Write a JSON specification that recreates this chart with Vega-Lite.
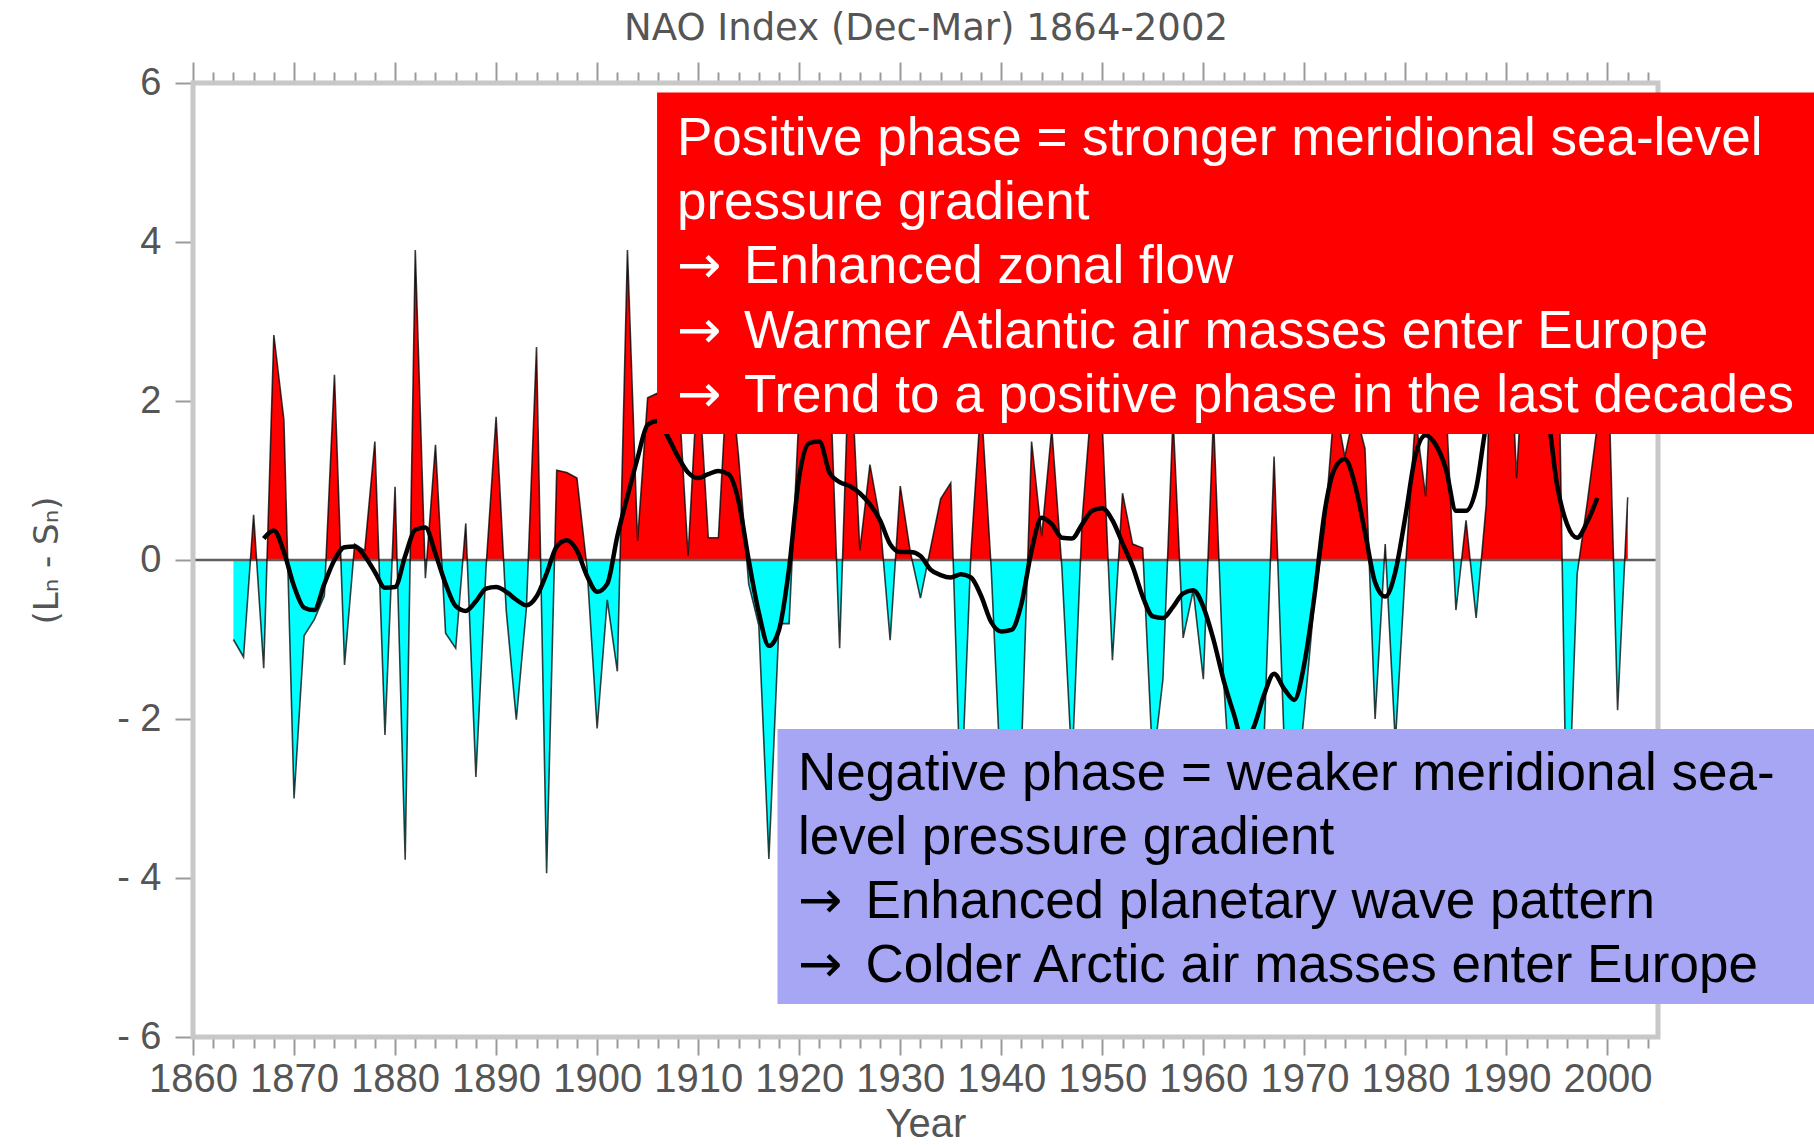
{
  "$schema": "https://vega.github.io/schema/vega-lite/v6.json",
  "description": "Winter (Dec-Mar) North Atlantic Oscillation index 1864-2002 with a low-pass smoothed curve and two explanatory call-outs.",
  "width": 1465,
  "height": 477,
  "autosize": {"type": "none"},
  "padding": {"left": 193, "top": 83, "right": 156, "bottom": 585},
  "background": "white",
  "config": {
    "view": {"stroke": null},
    "axis": {
      "domain": false,
      "grid": false,
      "tickColor": "#9a9a9a",
      "tickWidth": 2,
      "labelColor": "#555555",
      "labelFont": "Liberation Sans",
      "labelFontSize": 37,
      "titleColor": "#555555",
      "titleFont": "Liberation Sans",
      "titleFontWeight": "normal"
    }
  },
  "datasets": {
    "nao": [
      {"year": 1864, "nao": -1.00}, {"year": 1865, "nao": -1.22}, {"year": 1866, "nao": 0.57}, {"year": 1867, "nao": -1.36},
      {"year": 1868, "nao": 2.83}, {"year": 1869, "nao": 1.76}, {"year": 1870, "nao": -3.00}, {"year": 1871, "nao": -0.95},
      {"year": 1872, "nao": -0.75}, {"year": 1873, "nao": -0.45}, {"year": 1874, "nao": 2.33}, {"year": 1875, "nao": -1.32},
      {"year": 1876, "nao": 0.20}, {"year": 1877, "nao": 0.12}, {"year": 1878, "nao": 1.49}, {"year": 1879, "nao": -2.20},
      {"year": 1880, "nao": 0.92}, {"year": 1881, "nao": -3.77}, {"year": 1882, "nao": 3.90}, {"year": 1883, "nao": -0.23},
      {"year": 1884, "nao": 1.45}, {"year": 1885, "nao": -0.92}, {"year": 1886, "nao": -1.11}, {"year": 1887, "nao": 0.46},
      {"year": 1888, "nao": -2.73}, {"year": 1889, "nao": -0.10}, {"year": 1890, "nao": 1.80}, {"year": 1891, "nao": -0.63},
      {"year": 1892, "nao": -2.01}, {"year": 1893, "nao": -0.60}, {"year": 1894, "nao": 2.68}, {"year": 1895, "nao": -3.94},
      {"year": 1896, "nao": 1.13}, {"year": 1897, "nao": 1.10}, {"year": 1898, "nao": 1.03}, {"year": 1899, "nao": -0.10},
      {"year": 1900, "nao": -2.12}, {"year": 1901, "nao": -0.50}, {"year": 1902, "nao": -1.40}, {"year": 1903, "nao": 3.90},
      {"year": 1904, "nao": 0.24}, {"year": 1905, "nao": 2.04}, {"year": 1906, "nao": 2.10}, {"year": 1907, "nao": 1.90},
      {"year": 1908, "nao": 2.25}, {"year": 1909, "nao": 0.05}, {"year": 1910, "nao": 2.40}, {"year": 1911, "nao": 0.28},
      {"year": 1912, "nao": 0.28}, {"year": 1913, "nao": 2.60}, {"year": 1914, "nao": 1.30}, {"year": 1915, "nao": -0.30},
      {"year": 1916, "nao": -0.82}, {"year": 1917, "nao": -3.76}, {"year": 1918, "nao": -0.80}, {"year": 1919, "nao": -0.80},
      {"year": 1920, "nao": 1.90}, {"year": 1921, "nao": 2.30}, {"year": 1922, "nao": 1.80}, {"year": 1923, "nao": 2.50},
      {"year": 1924, "nao": -1.11}, {"year": 1925, "nao": 2.80}, {"year": 1926, "nao": 0.12}, {"year": 1927, "nao": 1.20},
      {"year": 1928, "nao": 0.50}, {"year": 1929, "nao": -1.01}, {"year": 1930, "nao": 0.93}, {"year": 1931, "nao": 0.10},
      {"year": 1932, "nao": -0.48}, {"year": 1933, "nao": 0.15}, {"year": 1934, "nao": 0.77}, {"year": 1935, "nao": 0.97},
      {"year": 1936, "nao": -3.10}, {"year": 1937, "nao": 0.10}, {"year": 1938, "nao": 2.00}, {"year": 1939, "nao": -0.10},
      {"year": 1940, "nao": -2.90}, {"year": 1941, "nao": -3.30}, {"year": 1942, "nao": -2.40}, {"year": 1943, "nao": 1.49},
      {"year": 1944, "nao": 0.30}, {"year": 1945, "nao": 1.65}, {"year": 1946, "nao": -0.10}, {"year": 1947, "nao": -2.60},
      {"year": 1948, "nao": 0.50}, {"year": 1949, "nao": 2.10}, {"year": 1950, "nao": 1.70}, {"year": 1951, "nao": -1.26},
      {"year": 1952, "nao": 0.84}, {"year": 1953, "nao": 0.20}, {"year": 1954, "nao": 0.15}, {"year": 1955, "nao": -2.60},
      {"year": 1956, "nao": -1.50}, {"year": 1957, "nao": 1.80}, {"year": 1958, "nao": -0.98}, {"year": 1959, "nao": -0.38},
      {"year": 1960, "nao": -1.50}, {"year": 1961, "nao": 1.80}, {"year": 1962, "nao": -1.50}, {"year": 1963, "nao": -3.50},
      {"year": 1964, "nao": -2.80}, {"year": 1965, "nao": -2.50}, {"year": 1966, "nao": -2.30}, {"year": 1967, "nao": 1.30},
      {"year": 1968, "nao": -2.30}, {"year": 1969, "nao": -3.20}, {"year": 1970, "nao": -1.90}, {"year": 1971, "nao": -0.50},
      {"year": 1972, "nao": 0.40}, {"year": 1973, "nao": 2.00}, {"year": 1974, "nao": 1.30}, {"year": 1975, "nao": 1.90},
      {"year": 1976, "nao": 1.40}, {"year": 1977, "nao": -2.00}, {"year": 1978, "nao": 0.20}, {"year": 1979, "nao": -2.30},
      {"year": 1980, "nao": -0.10}, {"year": 1981, "nao": 1.80}, {"year": 1982, "nao": 0.80}, {"year": 1983, "nao": 3.40},
      {"year": 1984, "nao": 2.00}, {"year": 1985, "nao": -0.63}, {"year": 1986, "nao": 0.50}, {"year": 1987, "nao": -0.73},
      {"year": 1988, "nao": 0.70}, {"year": 1989, "nao": 5.08}, {"year": 1990, "nao": 3.96}, {"year": 1991, "nao": 1.03},
      {"year": 1992, "nao": 3.28}, {"year": 1993, "nao": 2.67}, {"year": 1994, "nao": 3.03}, {"year": 1995, "nao": 3.96},
      {"year": 1996, "nao": -3.78}, {"year": 1997, "nao": -0.17}, {"year": 1998, "nao": 0.72}, {"year": 1999, "nao": 1.70},
      {"year": 2000, "nao": 2.80}, {"year": 2001, "nao": -1.89}, {"year": 2002, "nao": 0.79}
    ],
    "smooth": [
      {"year": 1867, "nao": 0.27}, {"year": 1868, "nao": 0.37}, {"year": 1869, "nao": 0.10}, {"year": 1870, "nao": -0.33},
      {"year": 1871, "nao": -0.60}, {"year": 1872, "nao": -0.63}, {"year": 1873, "nao": -0.30}, {"year": 1874, "nao": 0.00},
      {"year": 1875, "nao": 0.16}, {"year": 1876, "nao": 0.17}, {"year": 1877, "nao": 0.05}, {"year": 1878, "nao": -0.15},
      {"year": 1879, "nao": -0.35}, {"year": 1880, "nao": -0.34}, {"year": 1881, "nao": 0.05}, {"year": 1882, "nao": 0.38},
      {"year": 1883, "nao": 0.41}, {"year": 1884, "nao": 0.08}, {"year": 1885, "nao": -0.30}, {"year": 1886, "nao": -0.58},
      {"year": 1887, "nao": -0.64}, {"year": 1888, "nao": -0.52}, {"year": 1889, "nao": -0.36}, {"year": 1890, "nao": -0.34},
      {"year": 1891, "nao": -0.40}, {"year": 1892, "nao": -0.50}, {"year": 1893, "nao": -0.57}, {"year": 1894, "nao": -0.46},
      {"year": 1895, "nao": -0.17}, {"year": 1896, "nao": 0.17}, {"year": 1897, "nao": 0.25}, {"year": 1898, "nao": 0.12},
      {"year": 1899, "nao": -0.20}, {"year": 1900, "nao": -0.40}, {"year": 1901, "nao": -0.30}, {"year": 1902, "nao": 0.30},
      {"year": 1903, "nao": 0.80}, {"year": 1904, "nao": 1.28}, {"year": 1905, "nao": 1.70}, {"year": 1906, "nao": 1.75},
      {"year": 1907, "nao": 1.55}, {"year": 1908, "nao": 1.30}, {"year": 1909, "nao": 1.10}, {"year": 1910, "nao": 1.03},
      {"year": 1911, "nao": 1.08}, {"year": 1912, "nao": 1.12}, {"year": 1913, "nao": 1.08}, {"year": 1914, "nao": 0.74},
      {"year": 1915, "nao": 0.00}, {"year": 1916, "nao": -0.66}, {"year": 1917, "nao": -1.08}, {"year": 1918, "nao": -0.88},
      {"year": 1919, "nao": -0.10}, {"year": 1920, "nao": 1.05}, {"year": 1921, "nao": 1.47}, {"year": 1922, "nao": 1.49},
      {"year": 1923, "nao": 1.10}, {"year": 1924, "nao": 0.98}, {"year": 1925, "nao": 0.93}, {"year": 1926, "nao": 0.84},
      {"year": 1927, "nao": 0.70}, {"year": 1928, "nao": 0.50}, {"year": 1929, "nao": 0.20}, {"year": 1930, "nao": 0.10},
      {"year": 1931, "nao": 0.10}, {"year": 1932, "nao": 0.05}, {"year": 1933, "nao": -0.12}, {"year": 1934, "nao": -0.19},
      {"year": 1935, "nao": -0.22}, {"year": 1936, "nao": -0.18}, {"year": 1937, "nao": -0.22}, {"year": 1938, "nao": -0.45},
      {"year": 1939, "nao": -0.78}, {"year": 1940, "nao": -0.90}, {"year": 1941, "nao": -0.88}, {"year": 1942, "nao": -0.55},
      {"year": 1943, "nao": 0.12}, {"year": 1944, "nao": 0.53}, {"year": 1945, "nao": 0.45}, {"year": 1946, "nao": 0.28},
      {"year": 1947, "nao": 0.27}, {"year": 1948, "nao": 0.45}, {"year": 1949, "nao": 0.62}, {"year": 1950, "nao": 0.65},
      {"year": 1951, "nao": 0.50}, {"year": 1952, "nao": 0.21}, {"year": 1953, "nao": -0.08}, {"year": 1954, "nao": -0.46},
      {"year": 1955, "nao": -0.71}, {"year": 1956, "nao": -0.73}, {"year": 1957, "nao": -0.59}, {"year": 1958, "nao": -0.42},
      {"year": 1959, "nao": -0.38}, {"year": 1960, "nao": -0.59}, {"year": 1961, "nao": -1.00}, {"year": 1962, "nao": -1.51},
      {"year": 1963, "nao": -1.93}, {"year": 1964, "nao": -2.30}, {"year": 1965, "nao": -2.10}, {"year": 1966, "nao": -1.70},
      {"year": 1967, "nao": -1.43}, {"year": 1968, "nao": -1.62}, {"year": 1969, "nao": -1.76}, {"year": 1970, "nao": -1.30},
      {"year": 1971, "nao": -0.45}, {"year": 1972, "nao": 0.60}, {"year": 1973, "nao": 1.15}, {"year": 1974, "nao": 1.27},
      {"year": 1975, "nao": 0.95}, {"year": 1976, "nao": 0.35}, {"year": 1977, "nao": -0.28}, {"year": 1978, "nao": -0.46},
      {"year": 1979, "nao": -0.15}, {"year": 1980, "nao": 0.55}, {"year": 1981, "nao": 1.32}, {"year": 1982, "nao": 1.57},
      {"year": 1983, "nao": 1.45}, {"year": 1984, "nao": 1.15}, {"year": 1985, "nao": 0.62}, {"year": 1986, "nao": 0.62},
      {"year": 1987, "nao": 0.90}, {"year": 1988, "nao": 1.70}, {"year": 1989, "nao": 2.10}, {"year": 1990, "nao": 2.30},
      {"year": 1991, "nao": 2.40}, {"year": 1992, "nao": 2.40}, {"year": 1993, "nao": 2.20}, {"year": 1994, "nao": 1.90},
      {"year": 1995, "nao": 0.95}, {"year": 1996, "nao": 0.45}, {"year": 1997, "nao": 0.28}, {"year": 1998, "nao": 0.48},
      {"year": 1999, "nao": 0.78}
    ]
  },
  "resolve": {"axis": {"x": "independent", "y": "independent"}},
  "layer": [
    {
      "data": {"name": "nao"},
      "mark": {"type": "area", "color": "#00ffff", "clip": false},
      "encoding": {
        "x": {
          "field": "year", "type": "quantitative",
          "scale": {"domain": [1860, 2005], "nice": false, "zero": false},
          "axis": {
            "orient": "bottom", "offset": 477,
            "values": [1860, 1870, 1880, 1890, 1900, 1910, 1920, 1930, 1940, 1950, 1960, 1970, 1980, 1990, 2000],
            "format": "d", "tickSize": 18, "labelPadding": 4, "labelFontSize": 40,
            "labelOverlap": false, "labelFlush": false,
            "title": "Year", "titleFontSize": 40, "titlePadding": 5
          }
        },
        "y": {
          "field": "nao", "type": "quantitative",
          "scale": {"domain": [-6, 6], "range": [954, 0], "nice": false, "zero": false},
          "axis": {
            "orient": "left",
            "values": [-6, -4, -2, 0, 2, 4, 6],
            "tickSize": 18, "labelPadding": 14, "labelFontSize": 38,
            "labelExpr": "datum.value < 0 ? '- ' + abs(datum.value) : '' + datum.value",
            "title": "(Lₙ - Sₙ)", "titleFont": "DejaVu Sans", "titleFontSize": 34, "titlePadding": 52
          }
        },
        "y2": {"datum": 0}
      }
    },
    {
      "data": {"name": "nao"},
      "mark": {"type": "area", "color": "#ff0000", "clip": true},
      "encoding": {
        "x": {
          "field": "year", "type": "quantitative",
          "scale": {"domain": [1860, 2005], "nice": false, "zero": false},
          "axis": {
            "orient": "bottom", "offset": 477,
            "values": [1862, 1864, 1866, 1868, 1872, 1874, 1876, 1878, 1882, 1884, 1886, 1888, 1892, 1894, 1896, 1898, 1902, 1904, 1906, 1908, 1912, 1914, 1916, 1918, 1922, 1924, 1926, 1928, 1932, 1934, 1936, 1938, 1942, 1944, 1946, 1948, 1952, 1954, 1956, 1958, 1962, 1964, 1966, 1968, 1972, 1974, 1976, 1978, 1982, 1984, 1986, 1988, 1992, 1994, 1996, 1998, 2002, 2004],
            "tickSize": 11, "labels": false, "title": null
          }
        },
        "y": {"field": "nao", "type": "quantitative", "scale": {"domain": [-6, 6], "range": [954, 0], "nice": false, "zero": false}, "axis": null},
        "y2": {"datum": 0}
      }
    },
    {
      "data": {"values": [{}]},
      "mark": {"type": "rule", "color": "#5f5f5f", "strokeWidth": 2.5},
      "encoding": {
        "x": {"datum": 1860, "type": "quantitative", "axis": null},
        "x2": {"datum": 2005},
        "y": {"datum": 0, "type": "quantitative", "axis": null}
      }
    },
    {
      "data": {"name": "nao"},
      "mark": {"type": "line", "color": "#000000", "strokeWidth": 1.6, "opacity": 0.75},
      "encoding": {
        "x": {
          "field": "year", "type": "quantitative",
          "axis": {
            "orient": "top",
            "values": [1860, 1870, 1880, 1890, 1900, 1910, 1920, 1930, 1940, 1950, 1960, 1970, 1980, 1990, 2000],
            "tickSize": 21, "labels": false, "title": null
          }
        },
        "y": {"field": "nao", "type": "quantitative", "axis": null}
      }
    },
    {
      "data": {"name": "smooth"},
      "mark": {"type": "line", "color": "#000000", "strokeWidth": 4.5, "interpolate": "monotone"},
      "encoding": {
        "x": {
          "field": "year", "type": "quantitative",
          "axis": {
            "orient": "top",
            "values": [1862, 1864, 1866, 1868, 1872, 1874, 1876, 1878, 1882, 1884, 1886, 1888, 1892, 1894, 1896, 1898, 1902, 1904, 1906, 1908, 1912, 1914, 1916, 1918, 1922, 1924, 1926, 1928, 1932, 1934, 1936, 1938, 1942, 1944, 1946, 1948, 1952, 1954, 1956, 1958, 1962, 1964, 1966, 1968, 1972, 1974, 1976, 1978, 1982, 1984, 1986, 1988, 1992, 1994, 1996, 1998, 2002, 2004],
            "tickSize": 11, "labels": false, "title": null
          }
        },
        "y": {"field": "nao", "type": "quantitative", "axis": null}
      }
    },
    {
      "data": {"values": [{}]},
      "mark": {"type": "rect", "filled": false, "stroke": "#c8c8c8", "strokeWidth": 5},
      "encoding": {
        "x": {"datum": 1860, "type": "quantitative", "axis": null},
        "x2": {"datum": 2005},
        "y": {"datum": -6, "type": "quantitative", "axis": null},
        "y2": {"datum": 6}
      }
    },
    {
      "data": {"values": [{}]},
      "mark": {"type": "rect", "color": "#ff0000", "clip": false},
      "encoding": {
        "x": {"datum": 1905.93, "type": "quantitative", "axis": null},
        "x2": {"datum": 2021},
        "y": {"datum": 5.879, "type": "quantitative", "axis": null},
        "y2": {"datum": 1.585}
      }
    },
    {
      "data": {"values": [{}]},
      "mark": {"type": "text", "align": "left", "baseline": "alphabetic", "font": "Liberation Sans", "fontSize": 53, "lineHeight": 64.2, "color": "#ffffff", "clip": false},
      "encoding": {
        "x": {"datum": 1907.9, "type": "quantitative", "axis": null},
        "y": {"datum": 5.094, "type": "quantitative", "axis": null},
        "text": {"value": ["Positive phase = stronger meridional sea-level", "pressure gradient"]}
      }
    },
    {
      "data": {"values": [{}]},
      "mark": {"type": "text", "align": "left", "baseline": "alphabetic", "font": "DejaVu Sans", "fontSize": 53, "lineHeight": 64.2, "color": "#ffffff", "clip": false},
      "encoding": {
        "x": {"datum": 1907.9, "type": "quantitative", "axis": null},
        "y": {"datum": 3.479, "type": "quantitative", "axis": null},
        "text": {"value": ["→", "→", "→"]}
      }
    },
    {
      "data": {"values": [{}]},
      "mark": {"type": "text", "align": "left", "baseline": "alphabetic", "font": "Liberation Sans", "fontSize": 53, "lineHeight": 64.2, "color": "#ffffff", "clip": false},
      "encoding": {
        "x": {"datum": 1914.54, "type": "quantitative", "axis": null},
        "y": {"datum": 3.479, "type": "quantitative", "axis": null},
        "text": {"value": ["Enhanced zonal flow", "Warmer Atlantic air masses enter Europe", "Trend to a positive phase in the last decades"]}
      }
    },
    {
      "data": {"values": [{}]},
      "mark": {"type": "rect", "color": "#a6a6f5", "clip": false},
      "encoding": {
        "x": {"datum": 1917.85, "type": "quantitative", "axis": null},
        "x2": {"datum": 2021},
        "y": {"datum": -2.126, "type": "quantitative", "axis": null},
        "y2": {"datum": -5.585}
      }
    },
    {
      "data": {"values": [{}]},
      "mark": {"type": "text", "align": "left", "baseline": "alphabetic", "font": "Liberation Sans", "fontSize": 53, "lineHeight": 64.2, "color": "#000000", "clip": false},
      "encoding": {
        "x": {"datum": 1919.88, "type": "quantitative", "axis": null},
        "y": {"datum": -2.893, "type": "quantitative", "axis": null},
        "text": {"value": ["Negative phase = weaker meridional sea-", "level pressure gradient"]}
      }
    },
    {
      "data": {"values": [{}]},
      "mark": {"type": "text", "align": "left", "baseline": "alphabetic", "font": "DejaVu Sans", "fontSize": 53, "lineHeight": 64.2, "color": "#000000", "clip": false},
      "encoding": {
        "x": {"datum": 1919.88, "type": "quantitative", "axis": null},
        "y": {"datum": -4.503, "type": "quantitative", "axis": null},
        "text": {"value": ["→", "→"]}
      }
    },
    {
      "data": {"values": [{}]},
      "mark": {"type": "text", "align": "left", "baseline": "alphabetic", "font": "Liberation Sans", "fontSize": 53, "lineHeight": 64.2, "color": "#000000", "clip": false},
      "encoding": {
        "x": {"datum": 1926.55, "type": "quantitative", "axis": null},
        "y": {"datum": -4.503, "type": "quantitative", "axis": null},
        "text": {"value": ["Enhanced planetary wave pattern", "Colder Arctic air masses enter Europe"]}
      }
    },
    {
      "data": {"values": [{}]},
      "mark": {"type": "text", "align": "center", "baseline": "alphabetic", "font": "DejaVu Sans", "fontSize": 37, "color": "#555555", "clip": false},
      "encoding": {
        "x": {"datum": 1932.55, "type": "quantitative", "axis": null},
        "y": {"datum": 6.54, "type": "quantitative", "axis": null},
        "text": {"value": "NAO Index (Dec-Mar) 1864-2002"}
      }
    }
  ]
}
